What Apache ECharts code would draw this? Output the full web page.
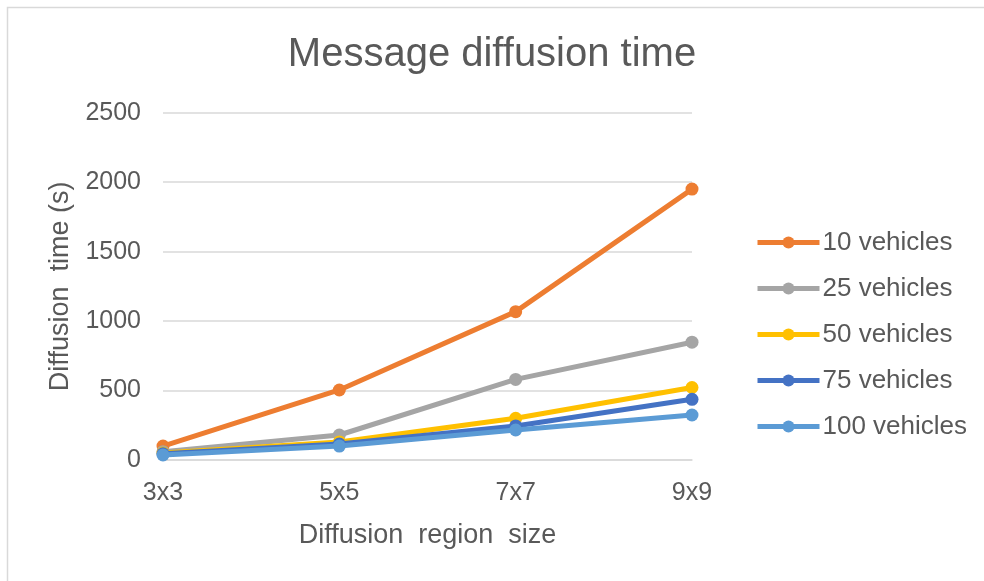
<!DOCTYPE html>
<html>
<head>
<meta charset="utf-8">
<script src="https://cdn.jsdelivr.net/npm/echarts@6/dist/echarts.min.js"></script>
<style>
  html, body { margin: 0; padding: 0; background: #ffffff; }
  #chart { width: 984px; height: 581px; }
</style>
</head>
<body>
<div id="chart"></div>
<script>
// Region sizes on the x axis
const regionSizes = ['3x3', '5x5', '7x7', '9x9'];

// Diffusion time (s) per fleet size
const vehicles10 = [100, 504, 1068, 1950];
const vehicles25 = [60, 180, 580, 848];
const vehicles50 = [50, 130, 300, 522];
const vehicles75 = [45, 115, 245, 437];
const vehicles100 = [36, 100, 216, 324];

const seriesNames = ['10 vehicles', '25 vehicles', '50 vehicles', '75 vehicles', '100 vehicles'];
const seriesData = [vehicles10, vehicles25, vehicles50, vehicles75, vehicles100];
const seriesColors = ['#ED7D31', '#A5A5A5', '#FFC000', '#4472C4', '#5B9BD5'];

const textColor = '#595959';
const fontFamily = '"Liberation Sans", Arial, sans-serif';

const chart = echarts.init(document.getElementById('chart'), null, { renderer: 'canvas' });

chart.setOption({
  backgroundColor: '#ffffff',
  animation: false,
  graphic: [{
    type: 'rect',
    shape: { x: 7.5, y: 7.5, width: 1100, height: 700 },
    style: { fill: 'none', stroke: '#d9d9d9', lineWidth: 1.5 },
    silent: true,
    z: -10
  }],
  title: {
    text: 'Message diffusion time',
    left: 'center',
    top: 30,
    textStyle: {
      color: textColor,
      fontFamily: fontFamily,
      fontWeight: 'normal',
      fontSize: 40
    }
  },
  grid: {
    left: 163,
    right: 292,
    top: 112.7,
    bottom: 121,
    containLabel: false
  },
  legend: {
    orient: 'vertical',
    left: 750,
    top: 224,
    itemWidth: 62,
    itemHeight: 15,
    itemGap: 19,
    data: seriesNames,
    lineStyle: { width: 5 },
    textStyle: {
      color: textColor,
      fontFamily: fontFamily,
      fontSize: 26,
      lineHeight: 27,
      padding: [0, 0, 0, -2]
    }
  },
  xAxis: {
    type: 'category',
    data: regionSizes,
    boundaryGap: false,
    name: 'Diffusion  region  size',
    nameLocation: 'middle',
    nameGap: 62,
    nameTextStyle: {
      color: textColor,
      fontFamily: fontFamily,
      fontSize: 27
    },
    axisLine: { show: true, lineStyle: { color: '#d9d9d9', width: 1.5 } },
    axisTick: { show: false },
    axisLabel: {
      color: textColor,
      fontFamily: fontFamily,
      fontSize: 25,
      margin: 21
    },
    splitLine: { show: false }
  },
  yAxis: {
    type: 'value',
    min: 0,
    max: 2500,
    interval: 500,
    name: 'Diffusion  time (s)',
    nameLocation: 'middle',
    nameGap: 86,
    nameRotate: 90,
    nameTextStyle: {
      color: textColor,
      fontFamily: fontFamily,
      fontSize: 27
    },
    axisLine: { show: false },
    axisTick: { show: false },
    axisLabel: {
      color: textColor,
      fontFamily: fontFamily,
      fontSize: 25,
      margin: 22,
      formatter: (v) => String(v)
    },
    splitLine: { show: true, lineStyle: { color: '#d9d9d9', width: 1.5 } }
  },
  series: seriesNames.map((name, i) => ({
    name: name,
    type: 'line',
    data: seriesData[i],
    symbol: 'circle',
    symbolSize: 13,
    showSymbol: true,
    color: seriesColors[i],
    lineStyle: { width: 5, color: seriesColors[i] },
    itemStyle: { color: seriesColors[i] },
    z: 2 + i
  }))
});
</script>
</body>
</html>
